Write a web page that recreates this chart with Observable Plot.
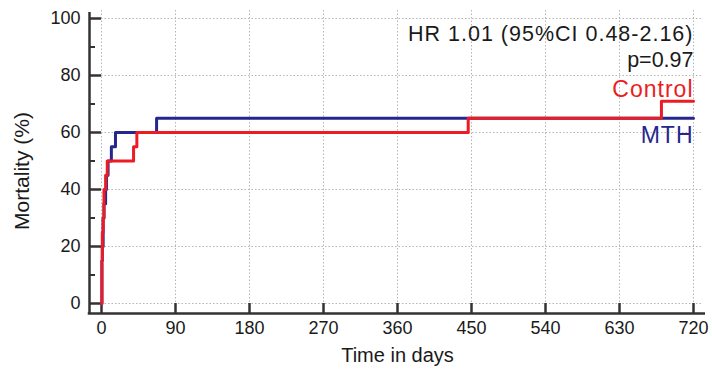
<!DOCTYPE html>
<html><head><meta charset="utf-8">
<script src="https://cdn.jsdelivr.net/npm/d3@7"></script>
<script src="https://cdn.jsdelivr.net/npm/@observablehq/plot@0.6"></script>
<style>
body{margin:0;background:#fff;}
#chart svg{display:block;}
</style></head><body><div id="chart"></div>
<script>
// Data (days, cumulative mortality %)
const mthDays = [0, 0.5, 1, 2, 3, 5, 6, 8, 12, 17, 67, 720];
const mthMortality = [0, 15, 20, 30, 35, 40, 45, 50, 55, 60, 65, 65];
const controlDays = [0, 0.5, 1, 2, 3, 5, 7, 39, 43, 446, 681, 720];
const controlMortality = [0, 15, 25, 30, 40, 45, 50, 55, 60, 65, 71, 71];
const seriesNames = ["MTH", "Control"];
const seriesColors = ["#26268f", "#ec1c24"];
const xTicks = [0, 90, 180, 270, 360, 450, 540, 630, 720];
const yTicks = [0, 20, 40, 60, 80, 100];
const yMinorTicks = [10, 30, 50, 70, 90];
const statText = ["HR 1.01 (95%CI 0.48-2.16)", "p=0.97"];
const xLabel = "Time in days";
const yLabel = "Mortality (%)";

const rows = [
  ...mthDays.map((d, i) => ({group: "MTH", day: d, mortality: mthMortality[i]})),
  ...controlDays.map((d, i) => ({group: "Control", day: d, mortality: controlMortality[i]}))
];
const ends = seriesNames.map(g => rows.filter(r => r.group === g).at(-1));

const axisColor = "#333";
const textColor = "#1a1a1a";
const gridColor = "#b5b5b5";

const chart = Plot.plot({
  width: 712, height: 369,
  marginLeft: 101, marginRight: 19, marginTop: 18, marginBottom: 66,
  x: {domain: [0, 720], axis: null},
  y: {domain: [0, 100], axis: null},
  color: {domain: seriesNames, range: seriesColors},
  style: {fontFamily: "'Liberation Sans', Arial, sans-serif", background: "#fff"},
  marks: [
    // dotted grid
    Plot.ruleX(xTicks, {x: d => d, stroke: gridColor, strokeDasharray: "1.5,2", insetTop: -8}),
    Plot.ruleY(yTicks, {y: d => d, stroke: gridColor, strokeDasharray: "1.5,2", insetRight: -10}),
    // axis lines (offset from the data area)
    Plot.ruleX([0], {dx: -12, insetTop: -6, insetBottom: -10, stroke: axisColor, strokeWidth: 2.5}),
    Plot.ruleY([0], {dy: 10, insetLeft: -13.25, insetRight: -12, stroke: axisColor, strokeWidth: 2.5}),
    // ticks
    Plot.tickY(yTicks, {y: d => d, dx: -12, insetRight: 580, stroke: axisColor, strokeWidth: 2.5}),
    Plot.tickY(yMinorTicks, {y: d => d, dx: -12, insetRight: 586, stroke: axisColor, strokeWidth: 2}),
    Plot.tickX(xTicks, {x: d => d, dy: 10, insetTop: 275, stroke: axisColor, strokeWidth: 2.5}),
    // tick labels
    Plot.text(xTicks, {x: d => d, text: d => String(d), frameAnchor: "bottom", lineAnchor: "middle", dy: 25, fontSize: 18, fill: textColor}),
    Plot.text(yTicks, {y: d => d, text: d => String(d), frameAnchor: "left", textAnchor: "end", lineAnchor: "middle", dx: -21, fontSize: 18, fill: textColor}),
    // axis titles
    Plot.text([xLabel], {text: d => d, frameAnchor: "bottom", lineAnchor: "middle", dy: 52, fontSize: 20, fill: textColor}),
    Plot.text([yLabel], {text: d => d, frameAnchor: "left", textAnchor: "middle", lineAnchor: "middle", rotate: -90, dx: -79, dy: 10, fontSize: 21, fill: textColor}),
    // curves
    Plot.line(rows, {x: "day", y: "mortality", z: "group", stroke: "group", curve: "step-after", strokeWidth: 3}),
    // annotations
    Plot.text([statText[0]], {text: d => d, frameAnchor: "top-right", textAnchor: "end", lineAnchor: "middle", dy: 16, fontSize: 21.5, fill: textColor}),
    Plot.text([statText[1]], {text: d => d, frameAnchor: "top-right", textAnchor: "end", lineAnchor: "middle", dy: 42, fontSize: 21.5, fill: textColor}),
    Plot.text(ends.filter(d => d.group === "Control"), {x: "day", y: "mortality", text: "group", fill: "group", textAnchor: "end", lineAnchor: "middle", dy: -12, fontSize: 23}),
    Plot.text(ends.filter(d => d.group === "MTH"), {x: "day", y: "mortality", text: "group", fill: "group", textAnchor: "end", lineAnchor: "middle", dy: 17, fontSize: 23})
  ]
});
const wide = [statText[0], "Control", "MTH"];
d3.select(chart).selectAll("text")
  .filter(function() { return wide.includes(this.textContent); })
  .style("letter-spacing", "1px");
document.getElementById("chart").appendChild(chart);
</script>
</body></html>
